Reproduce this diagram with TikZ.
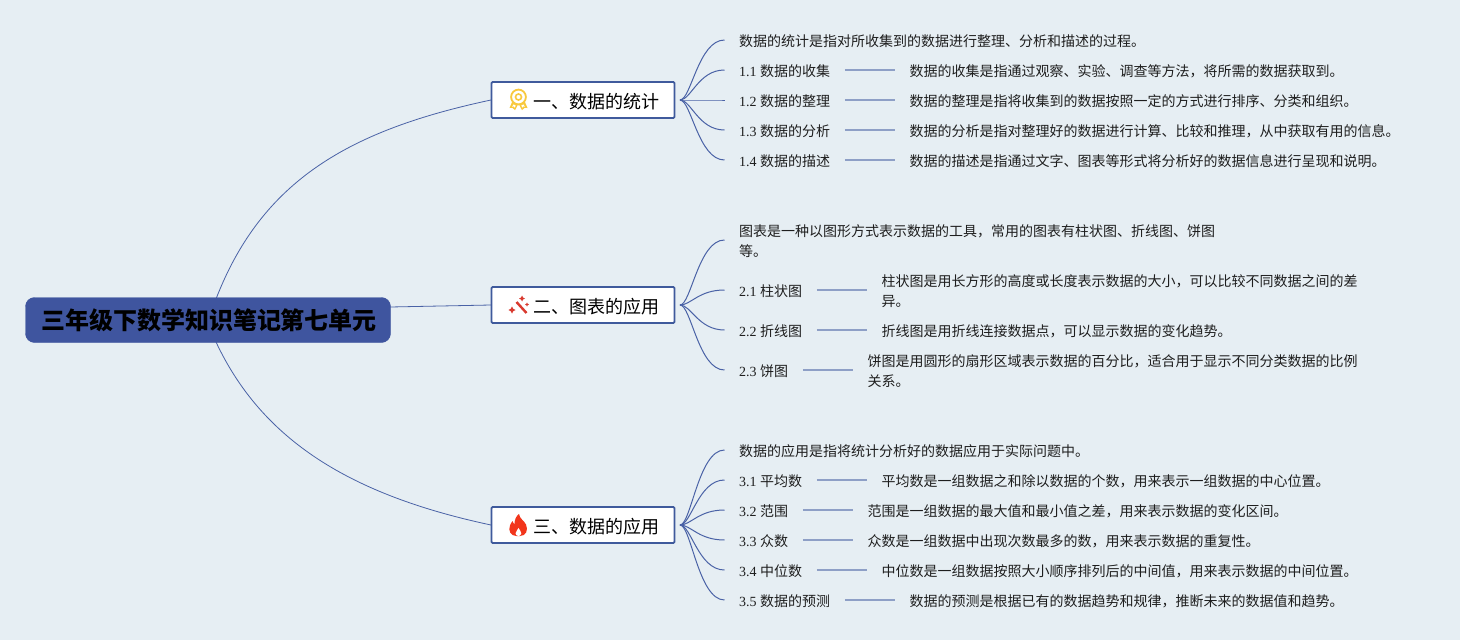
\documentclass[tikz,border=0pt]{standalone}
\usepackage{fontspec}
\setmainfont{Noto Sans CJK SC}
\newfontfamily\numfont{Liberation Serif}
\definecolor{bgc}{HTML}{E6EEF3}
\definecolor{rootc}{HTML}{3F559F}
\definecolor{linec}{HTML}{4A62A6}
\definecolor{detc}{HTML}{8E9FC6}
\definecolor{boxc}{HTML}{3F5A9C}
\definecolor{txtc}{HTML}{1E1E1E}
\definecolor{medalc}{HTML}{F8C93E}
\definecolor{wandc}{HTML}{D93A2F}
\definecolor{flamec}{HTML}{F2351B}
\tikzset{
  rootnode/.style={fill=rootc,draw=rootc,rounded corners=9pt,minimum width=365pt,minimum height=45pt,inner sep=0pt,text=black,font=\fontsize{24}{28}\selectfont\bfseries},
  branchnode/.style={fill=white,draw=boxc,line width=1.8pt,rounded corners=1.2pt,minimum width=183pt,minimum height=36pt,inner sep=0pt,text=black,font=\fontsize{18}{22}\selectfont,text height=18pt,text depth=2pt},
  leaf/.style={anchor=west,inner xsep=14.5pt,inner ysep=0pt,text=txtc,font=\fontsize{14}{20}\selectfont,text height=14pt,text depth=2pt},
  leaftwo/.style={anchor=west,inner xsep=14.5pt,inner ysep=0pt,text=txtc,font=\fontsize{14}{20}\selectfont,align=left},
  rootlink/.style={draw=linec,line width=0.8pt},
  kid/.style={draw=linec,line width=1pt},
  midlink/.style={draw=detc,line width=1.8pt}
}
\newcommand{\nm}[1]{{\numfont #1 }}
\newcommand{\tall}{\rule{0pt}{15pt}}
\newcommand{\kidlink}[2]{\draw[kid] (#1) .. controls ($(#1)+(11,0)$) and ($(#2.west)+(-26,0)$) .. (#2.west);}
\usetikzlibrary{calc}
\begin{document}
\begin{tikzpicture}[x=1pt,y=-1pt]
\useasboundingbox (0,0) rectangle (1460,640);
\fill[bgc] (0,0) rectangle (1460,640);

\coordinate (rt) at (216,299);
\coordinate (rb) at (216,342);
\coordinate (rm) at (390,307);
\draw[rootlink] (rt) .. controls (262,180) and (350,130) .. (491,100);
\draw[rootlink] (rb) .. controls (262,440) and (350,495) .. (491,525);
\draw[rootlink] (rm) -- (491,305);

\node[rootnode] (root) at (208,320) {\hspace*{2pt}三年级下数学知识笔记第七单元};
\node[branchnode] (b1) at (583,100) {\hspace*{26pt}一、数据的统计};
\node[branchnode] (b2) at (583,305) {\hspace*{26pt}二、图表的应用};
\node[branchnode] (b3) at (583,525) {\hspace*{26pt}三、数据的应用};

\coordinate (o1) at (680,100);
\coordinate (o2) at (680,305);
\coordinate (o3) at (680,525);

% section 1
\node[leaf] (a0) at (724.5,40) {数据的统计是指对所收集到的数据进行整理、分析和描述的过程。};
\node[leaf] (a1) at (724.5,70) {\nm{1.1}数据的收集};
\node[leaf] (a2) at (724.5,100) {\nm{1.2}数据的整理};
\node[leaf] (a3) at (724.5,130) {\nm{1.3}数据的分析};
\node[leaf] (a4) at (724.5,160) {\nm{1.4}数据的描述};
\node[leaf] (d1) at (895,70) {数据的收集是指通过观察、实验、调查等方法，将所需的数据获取到。};
\node[leaf] (d2) at (895,100) {数据的整理是指将收集到的数据按照一定的方式进行排序、分类和组织。};
\node[leaf] (d3) at (895,130) {数据的分析是指对整理好的数据进行计算、比较和推理，从中获取有用的信息。};
\node[leaf] (d4) at (895,160) {数据的描述是指通过文字、图表等形式将分析好的数据信息进行呈现和说明。};
\foreach \k in {a0,a1,a2,a3,a4} {\kidlink{o1}{\k}}
\foreach \i in {1,2,3,4} {\draw[midlink] (a\i.east) -- (d\i.west);}

% section 2
\node[leaftwo] (e0) at (724.5,240) {\tall 图表是一种以图形方式表示数据的工具，常用的图表有柱状图、折线图、饼图\\等。};
\node[leaf] (e1) at (724.5,290) {\nm{2.1}柱状图};
\node[leaf] (e2) at (724.5,330) {\nm{2.2}折线图};
\node[leaf] (e3) at (724.5,370) {\nm{2.3}饼图};
\node[leaftwo] (f1) at (867,290) {\tall 柱状图是用长方形的高度或长度表示数据的大小，可以比较不同数据之间的差\\异。};
\node[leaf] (f2) at (867,330) {折线图是用折线连接数据点，可以显示数据的变化趋势。};
\node[leaftwo] (f3) at (853,370) {\tall 饼图是用圆形的扇形区域表示数据的百分比，适合用于显示不同分类数据的比例\\关系。};
\foreach \k in {e0,e1,e2,e3} {\kidlink{o2}{\k}}
\foreach \i in {1,2,3} {\draw[midlink] (e\i.east) -- (f\i.west);}

% section 3
\node[leaf] (g0) at (724.5,450) {数据的应用是指将统计分析好的数据应用于实际问题中。};
\node[leaf] (g1) at (724.5,480) {\nm{3.1}平均数};
\node[leaf] (g2) at (724.5,510) {\nm{3.2}范围};
\node[leaf] (g3) at (724.5,540) {\nm{3.3}众数};
\node[leaf] (g4) at (724.5,570) {\nm{3.4}中位数};
\node[leaf] (g5) at (724.5,600) {\nm{3.5}数据的预测};
\node[leaf] (h1) at (867,480) {平均数是一组数据之和除以数据的个数，用来表示一组数据的中心位置。};
\node[leaf] (h2) at (853,510) {范围是一组数据的最大值和最小值之差，用来表示数据的变化区间。};
\node[leaf] (h3) at (853,540) {众数是一组数据中出现次数最多的数，用来表示数据的重复性。};
\node[leaf] (h4) at (867,570) {中位数是一组数据按照大小顺序排列后的中间值，用来表示数据的中间位置。};
\node[leaf] (h5) at (895,600) {数据的预测是根据已有的数据趋势和规律，推断未来的数据值和趋势。};
\foreach \k in {g0,g1,g2,g3,g4,g5} {\kidlink{o3}{\k}}
\foreach \i in {1,2,3,4,5} {\draw[midlink] (g\i.east) -- (h\i.west);}

% medal icon
\begin{scope}[shift={(518.5,97)}]
\fill[medalc] (-6,4) -- (-9,11) -- (-6,10.8) -- (-3.5,13.2) -- (-0.5,7.5) -- (0.5,7.5) -- (3.5,13.2) -- (6,10.8) -- (9,11) -- (6,4) -- cycle;
\fill[white] (-4.8,7.4) -- (-6.4,9.6) -- (-4.9,9.4) -- (-3.8,10.6) -- (-2.8,8.6) -- cycle;
\fill[white] (4.8,7.4) -- (6.4,9.6) -- (4.9,9.4) -- (3.8,10.6) -- (2.8,8.6) -- cycle;
\draw[medalc,line width=1.8pt,fill=white] (0,0) circle (7.4);
\draw[medalc,line width=1.6pt] (0,0) circle (3);
\end{scope}

% wand icon
\draw[wandc,line width=2.4pt] (516.5,302) -- (526.5,313);
\fill[wandc] (522,295.5) -- (523,297.5) -- (525,298.5) -- (523,299.5) -- (522,301.5) -- (521,299.5) -- (519,298.5) -- (521,297.5) -- cycle;
\fill[wandc] (512,306.5) -- (513.2,308.8) -- (515.5,310) -- (513.2,311.2) -- (512,313.5) -- (510.8,311.2) -- (508.5,310) -- (510.8,308.8) -- cycle;
\fill[wandc] (527,302.5) -- (527.7,303.8) -- (529,304.5) -- (527.7,305.2) -- (527,306.5) -- (526.3,305.2) -- (525,304.5) -- (526.3,303.8) -- cycle;

% flame icon
\fill[flamec] (519,514) .. controls (519.5,518.5) and (524,520.5) .. (526,524.5) .. controls (528.5,530) and (526,536) .. (520,536) -- (516.5,536) .. controls (510.5,536) and (508,530.5) .. (510,525.5) .. controls (510.5,524) and (511.5,522.5) .. (512.5,521) .. controls (513,522.5) and (513.5,523.5) .. (514.5,524) .. controls (514.5,520) and (516,516) .. (519,514) -- cycle;
\fill[white] (518.5,528) .. controls (519,530) and (521.5,531) .. (521.3,533.3) .. controls (521,535) and (520,536) .. (518.5,536) .. controls (517,536) and (515.5,535) .. (515.5,533.3) .. controls (515.5,531.3) and (518,530) .. (518.5,528) -- cycle;
\end{tikzpicture}
\end{document}
